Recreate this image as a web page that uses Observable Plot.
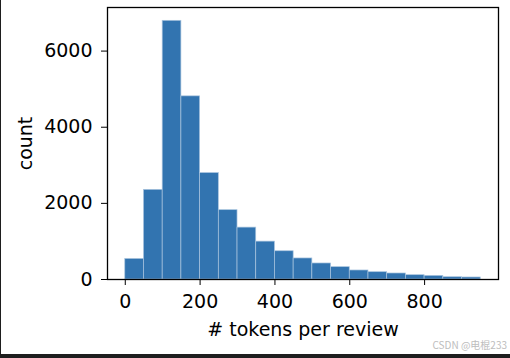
<!DOCTYPE html>
<html>
<head>
<meta charset="utf-8">
<script src="https://cdn.jsdelivr.net/npm/d3@7"></script>
<script src="https://cdn.jsdelivr.net/npm/@observablehq/plot@0.6"></script>
<style>
  html, body { margin: 0; padding: 0; background: #fff; }
  #wrap { position: relative; width: 510px; height: 358px; overflow: hidden; background: #fff; }
  #wrap svg { position: absolute; left: 0; top: 0; }
  #lb { position: absolute; left: 0; top: 0; width: 1px; height: 358px; background: #1e1e1e; }
  #bb { position: absolute; left: 0; top: 354px; width: 510px; height: 4px; background: #1e1e1e; }
  #wm { position: absolute; right: 3px; top: 337px; font: 10px "Noto Sans CJK SC", "DejaVu Sans", sans-serif; color: #bdbdbd; }
</style>
</head>
<body>
<div id="wrap"></div>
<script>
const binStarts = [0, 50, 100, 150, 200, 250, 300, 350, 400, 450, 500, 550, 600, 650, 700, 750, 800, 850, 900];
const binWidth = 50;
const counts = [540, 2355, 6795, 4811, 2795, 1821, 1363, 995, 742, 553, 421, 324, 237, 192, 158, 113, 95, 60, 53];
const xTicks = [0, 200, 400, 600, 800];
const yTicks = [0, 2000, 4000, 6000];
const xLabel = "# tokens per review";
const yLabel = "count";
const watermark = "CSDN @电棍233";

const bins = binStarts.map((s, i) => ({x1: s, x2: s + binWidth, count: counts[i]}));

const chart = Plot.plot({
  width: 510,
  height: 358,
  marginLeft: 107,
  marginTop: 7,
  marginRight: 12,
  marginBottom: 79,
  style: {fontFamily: "DejaVu Sans", fontSize: "19px", color: "#000", background: "transparent"},
  x: {domain: [-47.5, 997.5]},
  y: {domain: [0, 7145]},
  marks: [
    Plot.rectY(bins, {x1: "x1", x2: "x2", y: "count", fill: "#3274b0", stroke: "#a9c4de", strokeWidth: 0.7}),
    Plot.axisX({ticks: xTicks, tickSize: 6, tickPadding: 9, tickFormat: d => String(d), label: xLabel, labelAnchor: "center", labelArrow: "none", labelOffset: 56, fontSize: 19}),
    Plot.axisY({ticks: yTicks, tickSize: 6, tickPadding: 9, tickFormat: d => String(d), label: yLabel, labelAnchor: "center", labelArrow: "none", labelOffset: 89, fontSize: 19}),
    Plot.frame({stroke: "#000", strokeWidth: 1.3})
  ]
});
const wrap = document.getElementById("wrap");
wrap.appendChild(chart);
const lb = document.createElement("div"); lb.id = "lb"; wrap.appendChild(lb);
const bb = document.createElement("div"); bb.id = "bb"; wrap.appendChild(bb);
const wm = document.createElement("div"); wm.id = "wm"; wm.textContent = watermark; wrap.appendChild(wm);
</script>
</body>
</html>
